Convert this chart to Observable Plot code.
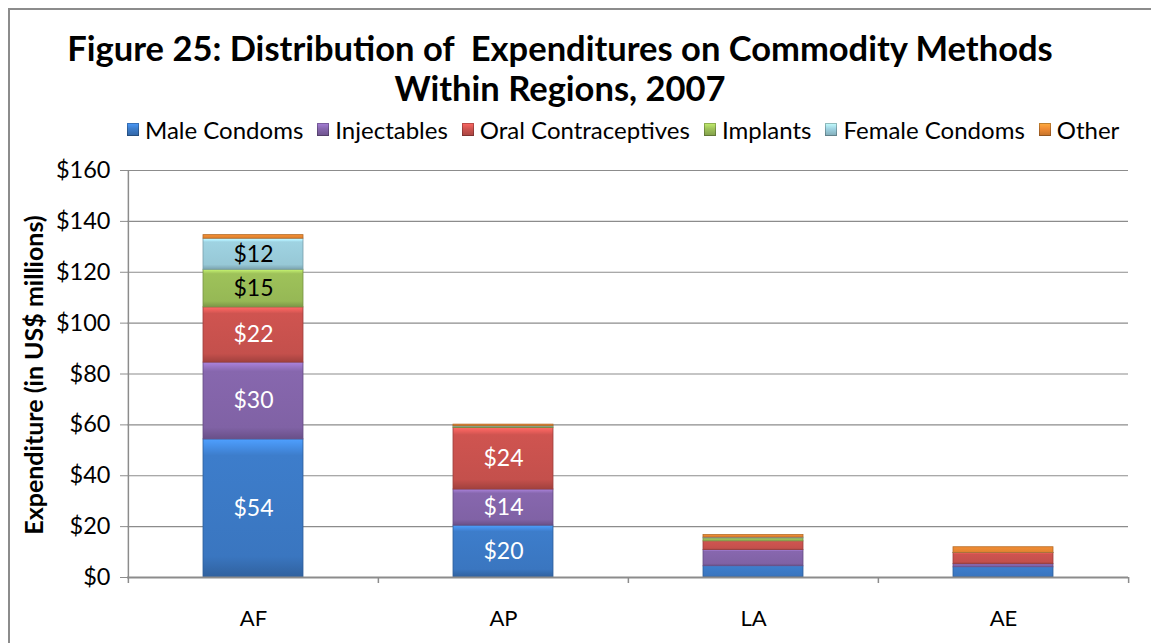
<!DOCTYPE html>
<html>
<head>
<meta charset="utf-8">
<script src="https://cdn.jsdelivr.net/npm/d3@7"></script>
<script src="https://cdn.jsdelivr.net/npm/@observablehq/plot@0.6"></script>
<style>
  html, body { margin: 0; padding: 0; background: #fff; }
  #wrap { position: relative; width: 1151px; height: 643px; overflow: hidden; font-family: Lato, "Open Sans", sans-serif; }
  #frame { position: absolute; left: 8px; top: 8px; right: -10px; bottom: -10px; border-left: 2px solid #8c8c8c; border-top: 2px solid #8c8c8c; }
  #title { position: absolute; left: 0; width: 1120px; top: 28px; text-align: center; font-weight: 700; font-size: 34.5px; line-height: 40px; color: #000; }
  #legend { position: absolute; left: 127px; top: 115px; display: flex; align-items: center; gap: 14px; font-size: 24px; color: #000; white-space: nowrap; }
  #legend .item { display: flex; align-items: center; gap: 6px; }
  #legend .sw { width: 12px; height: 13px; display: inline-block; box-shadow: inset 0 0 0 1px rgba(0,0,0,0.25); }
  #ylabel { position: absolute; left: 33px; top: 375px; transform: translate(-50%, -50%) rotate(-90deg); font-weight: 700; font-size: 25px; white-space: nowrap; color: #000; }
  #chart { position: absolute; left: 0; top: 0; }
</style>
</head>
<body>
<div id="wrap">
  <div id="frame"></div>
  <div id="chart"></div>
  <div id="title"></div>
  <div id="legend"></div>
  <div id="ylabel"></div>
</div>
<script>
// ---- Data ----
const titleLines = ["Figure 25: Distribution of  Expenditures on Commodity Methods", "Within Regions, 2007"];
const yAxisTitle = "Expenditure (in US$ millions)";
const regions = ["AF", "AP", "LA", "AE"];
const methods = ["Male Condoms", "Injectables", "Oral Contraceptives", "Implants", "Female Condoms", "Other"];
const maleCondoms        = [54.3, 20.4, 4.4, 4.0];
const injectables        = [30.2, 14.2, 6.4, 1.3];
const oralContraceptives = [21.7, 24.2, 3.4, 4.3];
const implants           = [14.8, 0.5, 1.2, 0.05];
const femaleCondoms      = [12.2, 0.2, 0.3, 0.05];
const other              = [1.4, 0.6, 1.0, 2.2];
const yTicks = [0, 20, 40, 60, 80, 100, 120, 140, 160];
const methodColors = ["#3d7dcb", "#8767ae", "#cf5450", "#9ec25a", "#9fd3e2", "#f08c34"];
const darkLabelMethods = ["Implants", "Female Condoms"];

const series = [maleCondoms, injectables, oralContraceptives, implants, femaleCondoms, other];
const data = regions.flatMap((r, i) => methods.map((m, j) => ({region: r, method: m, value: series[j][i], k: j})));

// ---- Title / legend / y label ----
document.getElementById("title").innerHTML = titleLines.map(t => `<div>${t.replace(/  /g, " &nbsp;")}</div>`).join("");
document.getElementById("ylabel").textContent = yAxisTitle;
document.getElementById("legend").innerHTML = methods.map((m, j) =>
  `<span class="item"><span class="sw" style="background:linear-gradient(${d3.color(methodColors[j]).brighter(0.6)}, ${methodColors[j]} 45%, ${d3.color(methodColors[j]).darker(0.6)})"></span><span>${m}</span></span>`
).join("");

// ---- Chart ----
const W = 1151, H = 643, mL = 127, mR = 23, mT = 170, mB = 66;
const pIn = 0.6, pOut = 0.3;
const step = (W - mL - mR) / (regions.length - pIn + 2 * pOut);

const plot = Plot.plot({
  width: W, height: H,
  marginLeft: mL, marginRight: mR, marginTop: mT, marginBottom: mB,
  style: {fontFamily: "Lato, 'Open Sans', sans-serif", fontSize: "22px", color: "#000", background: "transparent", overflow: "visible"},
  x: {domain: regions, paddingInner: pIn, paddingOuter: pOut, label: null},
  y: {domain: [0, 160], label: null},
  color: {type: "identity"},
  marks: [
    Plot.gridY(yTicks, {stroke: "#8c8c8c", strokeOpacity: 1, strokeWidth: 1.2}),
    Plot.ruleX([regions[0]], {dx: -step / 2, stroke: "#8c8c8c", strokeWidth: 1.5}),
    Plot.ruleX(regions, {dx: -step / 2, stroke: "#8c8c8c", strokeWidth: 1.5, insetTop: H - mT - mB, insetBottom: -6}),
    Plot.ruleX([regions[regions.length - 1]], {dx: step / 2, stroke: "#8c8c8c", strokeWidth: 1.5, insetTop: H - mT - mB, insetBottom: -6}),
    Plot.axisY({ticks: yTicks, tickFormat: d => "$" + d, tickSize: 7, tickPadding: 10, stroke: "#8c8c8c", fontSize: "23.5px", label: null}),
    Plot.axisX({tickSize: 0, tickPadding: 33, fontSize: "22px", label: null}),
    Plot.barY(data, Plot.stackY({
      x: "region", y: "value", z: "method",
      fill: d => `url(#grad${d.k})`,
      stroke: d => d3.color(methodColors[d.k]).darker(0.8).formatHex(),
      strokeWidth: 0.8,
      inset: 0
    })),
    Plot.ruleY([0], {stroke: "#8c8c8c", strokeWidth: 2}),
    Plot.text(data, Plot.stackY({
      x: "region", y: "value", z: "method",
      text: d => d.value >= 10 ? "$" + Math.round(d.value) : "",
      fill: d => darkLabelMethods.includes(d.method) ? "#000" : "#fff",
      fontSize: 23
    }))
  ]
});

// gradient defs for a bevelled look
const ns = "http://www.w3.org/2000/svg";
const defs = document.createElementNS(ns, "defs");
methodColors.forEach((c, j) => {
  const g = document.createElementNS(ns, "linearGradient");
  g.setAttribute("id", "grad" + j);
  g.setAttribute("x1", "0"); g.setAttribute("y1", "0"); g.setAttribute("x2", "0"); g.setAttribute("y2", "1");
  const stops = [[0, d3.color(c).brighter(0.7)], [0.06, d3.color(c).brighter(0.35)], [0.12, d3.color(c)], [0.85, d3.color(c).darker(0.15)], [1, d3.color(c).darker(0.7)]];
  stops.forEach(([o, col]) => {
    const s = document.createElementNS(ns, "stop");
    s.setAttribute("offset", o);
    s.setAttribute("stop-color", col.formatHex());
    g.appendChild(s);
  });
  defs.appendChild(g);
});
plot.insertBefore(defs, plot.firstChild);
document.getElementById("chart").appendChild(plot);
</script>
</body>
</html>
